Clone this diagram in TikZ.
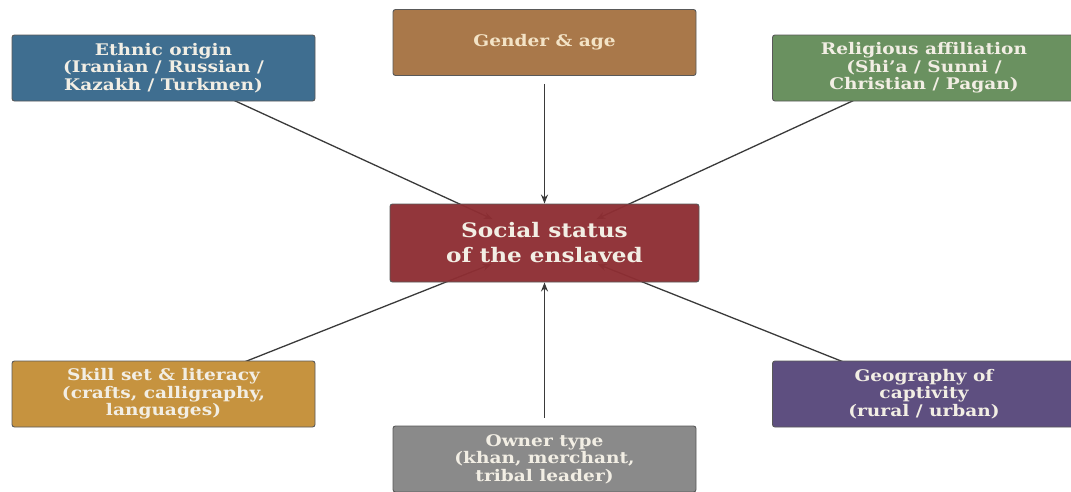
\documentclass[tikz,border=0pt]{standalone}
\usepackage{fontspec}
\setmainfont[FakeStretch=1.16]{DejaVu Serif}
\usetikzlibrary{arrows.meta,calc,backgrounds}
\definecolor{cEth}{HTML}{3F6E90}
\definecolor{cGen}{HTML}{A9784A}
\definecolor{cRel}{HTML}{6A9160}
\definecolor{cSoc}{HTML}{8E2E33}
\definecolor{cSkl}{HTML}{C6933F}
\definecolor{cOwn}{HTML}{8A8A8A}
\definecolor{cGeo}{HTML}{5E4F80}
\definecolor{edgecol}{HTML}{3A3A3A}
\definecolor{txtlight}{HTML}{F2EEE4}
\definecolor{txtcream}{HTML}{F3E3C6}
\tikzset{
  factor/.style={draw=black!65, line width=0.9pt, rounded corners=2.5pt, minimum width=303pt, minimum height=66pt, inner sep=0pt, align=center, text=txtlight, font=\bfseries\fontsize{16}{17.5}\selectfont},
  hub/.style={draw=black!65, line width=0.9pt, rounded corners=2.5pt, minimum width=309pt, minimum height=78pt, inner sep=0pt, align=center, text=txtlight, font=\bfseries\fontsize{20}{25}\selectfont, fill opacity=0.96, text opacity=1},
  link/.style={draw=edgecol, line width=1.3pt, -{Stealth[length=9pt,width=7pt]}}
}
\begin{document}
\begin{tikzpicture}[x=1pt,y=-1pt]
\useasboundingbox (0,0) rectangle (1071,491);
\node[hub, fill=cSoc] (soc) at (544.5,243) {Social status\\of the enslaved};
\node[factor, fill=cEth] (eth) at (163.5,68) {Ethnic origin\\(Iranian / Russian /\\Kazakh / Turkmen)};
\node[factor, fill=cGen, text=txtcream] (gen) at (544.5,42.5) {Gender \& age};
\node[factor, fill=cRel] (rel) at (924,68) {Religious affiliation\\(Shi'a / Sunni /\\Christian / Pagan)};
\node[factor, fill=cSkl] (skl) at (163.5,394) {Skill set \& literacy\\(crafts, calligraphy,\\languages)};
\node[factor, fill=cOwn] (own) at (544.5,459) {Owner type\\(khan, merchant,\\tribal leader)};
\node[factor, fill=cGeo] (geo) at (924,394) {Geography of\\captivity\\(rural / urban)};
\begin{scope}[on background layer]
\draw[link] (eth.center) -- ($(soc.center)!57pt!(eth.center)$);
\draw[link] (rel.center) -- ($(soc.center)!57pt!(rel.center)$);
\draw[link] (skl.center) -- ($(soc.center)!57pt!(skl.center)$);
\draw[link] (geo.center) -- ($(soc.center)!57pt!(geo.center)$);
\draw[link] ($(gen.south)+(0,8)$) -- (soc.north);
\draw[link] ($(own.north)+(0,-8)$) -- (soc.south);
\end{scope}
\end{tikzpicture}
\end{document}
